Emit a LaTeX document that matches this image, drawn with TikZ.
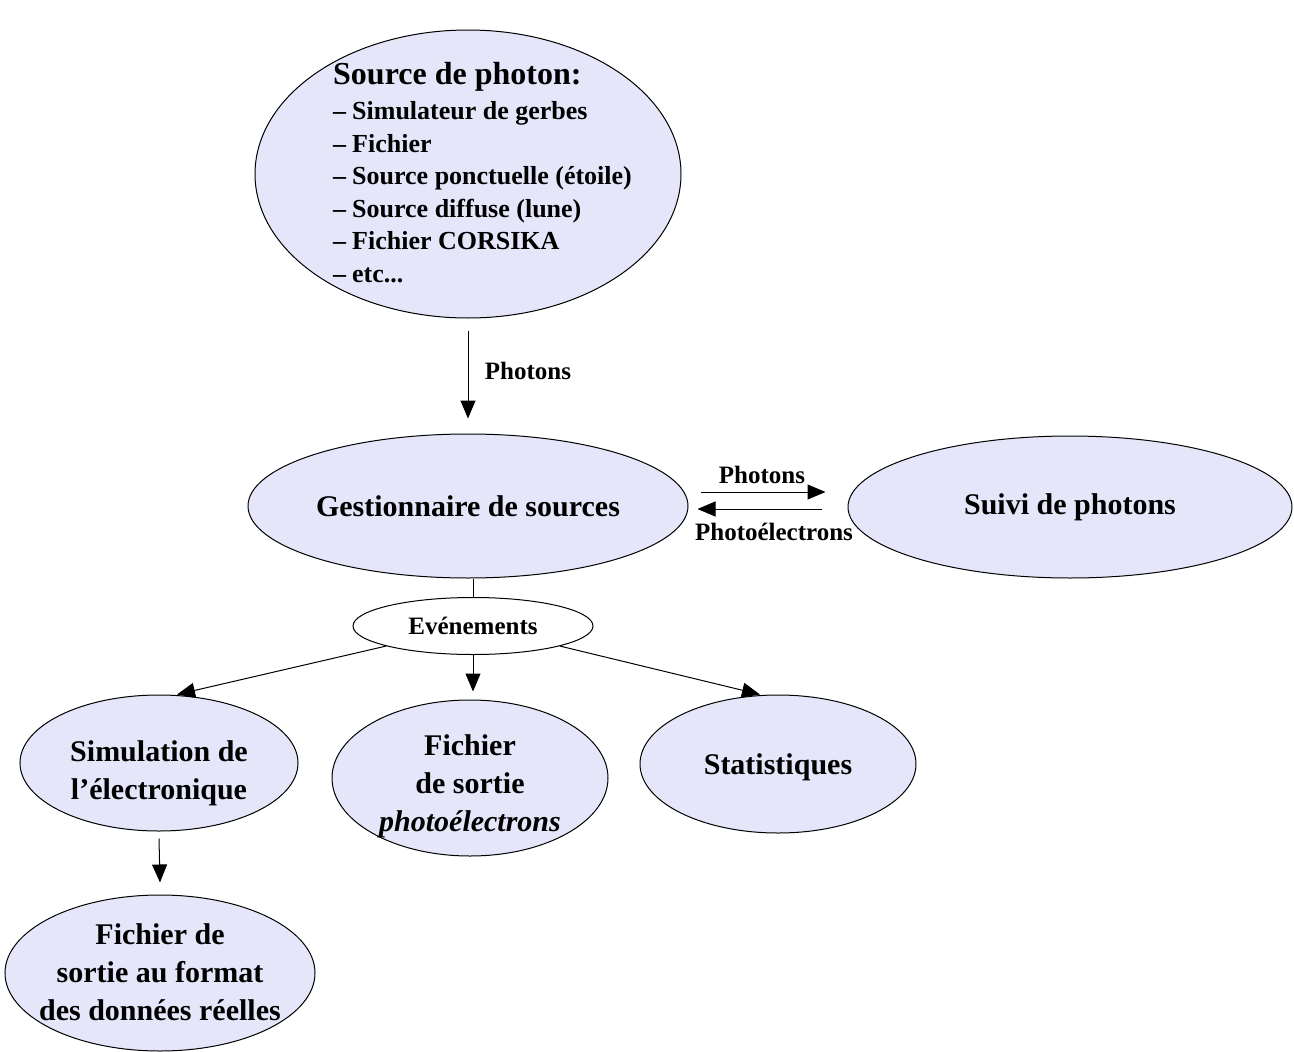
\documentclass[tikz,border=0pt]{standalone}
\usepackage{fontspec}
\setmainfont{Liberation Serif}
\usetikzlibrary{shapes.geometric,arrows.meta}
\definecolor{lav}{RGB}{230,230,250}
\begin{document}
\begin{tikzpicture}[x=1pt,y=-1pt,
  ell/.style={ellipse, draw, fill=lav, line width=1pt, inner sep=0pt, align=center,
    font=\fontsize{30}{38}\selectfont\bfseries},
  txt/.style={inner sep=0pt, align=center, font=\fontsize{30}{38}\selectfont\bfseries},
  lbl/.style={font=\fontsize{25}{28}\selectfont\bfseries, inner sep=0pt},
  arr/.style={-{Triangle[length=18pt,width=15pt]}, line width=1pt},
  ln/.style={line width=1pt},
]
\useasboundingbox (0,0) rectangle (1294,1052);
% nodes
\node[ell, minimum width=426pt, minimum height=288pt] (src) at (468,174) {};
\node[anchor=base west, align=left, inner sep=0pt,
  font=\fontsize{26}{32.5}\selectfont\bfseries] (srctxt) at (333,282)
  {{\fontsize{32}{32.5}\selectfont Source de photon:}\\[2.5pt]
   \textendash\hspace{6pt}Simulateur de gerbes\\
   \textendash\hspace{6pt}Fichier\\
   \textendash\hspace{6pt}Source ponctuelle (étoile)\\
   \textendash\hspace{6pt}Source diffuse (lune)\\
   \textendash\hspace{6pt}Fichier CORSIKA\\
   \textendash\hspace{6pt}etc...};
\node[ell, minimum width=440pt, minimum height=144pt] (gest) at (468,506) {Gestionnaire de sources};
\node[ell, minimum width=444pt, minimum height=142pt] (suivi) at (1070,507) {Suivi de photons};
\node[ellipse, draw, fill=white, line width=1pt, inner sep=0pt, minimum width=240pt, minimum height=57pt,
  font=\fontsize{25}{28}\selectfont\bfseries] (evt) at (473,626) {Evénements};
\node[ell, minimum width=278pt, minimum height=136pt] (sim) at (159,763) {};
\node[txt] (simtxt) at (159,773) {Simulation de\\l’électronique};
\node[ell, minimum width=276pt, minimum height=156pt] (fich) at (470,778) {};
\node[txt] (fichtxt) at (470,786) {Fichier\\de sortie\\\textit{photoélectrons}};
\node[ell, minimum width=276pt, minimum height=138pt] (stat) at (778,764) {};
\node[txt] (stattxt) at (778,767) {Statistiques};
\node[ell, minimum width=310pt, minimum height=156pt] (fmt) at (160,973) {};
\node[txt] (fmttxt) at (160,972) {Fichier de\\sortie au format\\des données réelles};
% labels
\node[lbl] (lph1) at (528,371) {Photons};
\node[lbl] (lph2) at (762,475) {Photons};
\node[lbl] (lpe) at (774,532) {Photoélectrons};
% connectors
\draw[arr] ([yshift=-12pt]src.south) -- ([yshift=15pt]gest.north);
\draw[arr] ([shift={(12pt,14pt)}]gest.east) -- ([shift={(-22pt,15pt)}]suivi.west);
\draw[arr] ([shift={(-26pt,-2pt)}]suivi.west) -- ([shift={(9pt,-3pt)}]gest.east);
\draw[ln] (evt.north) -- (evt.north |- gest.south);
\draw[arr] (evt.-167) -- ([xshift=18pt]sim.north);
\draw[arr] (evt.south) -- ([yshift=8pt]evt.south |- fich.north);
\draw[arr] (evt.-13) -- ([xshift=-18pt]stat.north);
\draw[arr] ([yshift=-7pt]sim.south) -- ([yshift=12pt]fmt.north);
\end{tikzpicture}
\end{document}
